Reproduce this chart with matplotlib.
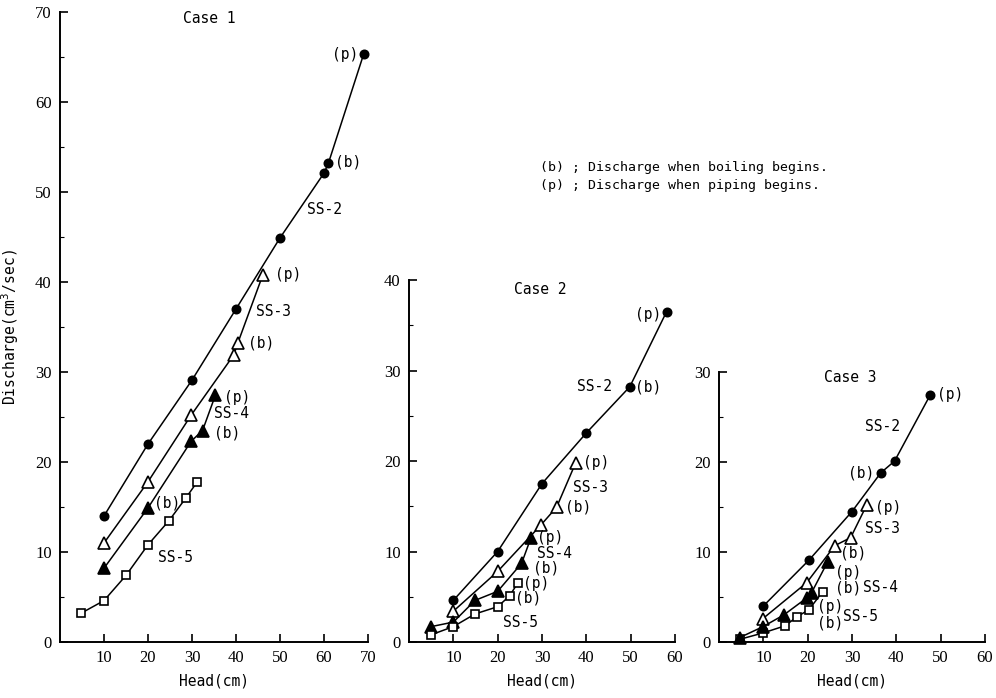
import matplotlib
matplotlib.use("Agg")
import matplotlib.pyplot as plt
from matplotlib.ticker import MultipleLocator

# Case 1 data (Head cm, Discharge cm3/sec)
c1_ss2_x = [10, 20, 30, 40, 50, 60, 61, 69]
c1_ss2_y = [14.0, 22.0, 29.1, 37.0, 44.9, 52.1, 53.2, 65.3]
c1_ss3_x = [10, 20, 29.8, 39.5, 40.4, 46.1]
c1_ss3_y = [11.0, 17.8, 25.2, 31.9, 33.2, 40.8]
c1_ss4_x = [10, 20, 29.8, 32.4, 35.3]
c1_ss4_y = [8.2, 14.9, 22.3, 23.5, 27.4]
c1_ss5_x = [4.8, 10, 15, 20, 24.8, 28.6, 31.2]
c1_ss5_y = [3.2, 4.6, 7.4, 10.8, 13.5, 16.0, 17.8]

# Case 2
c2_ss2_x = [10, 20, 30, 40, 49.8, 58.1]
c2_ss2_y = [4.6, 10.0, 17.5, 23.1, 28.2, 36.5]
c2_ss3_x = [10, 20, 29.7, 33.3, 37.6]
c2_ss3_y = [3.4, 7.8, 12.9, 14.9, 19.8]
c2_ss4_x = [5, 10, 14.9, 20, 25.4, 27.5]
c2_ss4_y = [1.7, 2.2, 4.6, 5.6, 8.7, 11.5]
c2_ss5_x = [5, 10, 14.9, 20, 22.7, 24.5]
c2_ss5_y = [0.8, 1.7, 3.1, 3.9, 5.1, 6.5]

# Case 3
c3_ss2_x = [10, 20.3, 30, 36.5, 39.6, 47.7]
c3_ss2_y = [4.0, 9.1, 14.5, 18.8, 20.1, 27.5]
c3_ss3_x = [9.9, 19.8, 26.1, 29.7, 33.3]
c3_ss3_y = [2.6, 6.6, 10.7, 11.6, 15.2]
c3_ss4_x = [4.7, 9.9, 14.6, 19.8, 20.9, 24.5]
c3_ss4_y = [0.5, 1.7, 3.0, 4.9, 5.5, 8.9]
c3_ss5_x = [4.7, 9.9, 14.9, 17.6, 20.3, 23.4]
c3_ss5_y = [0.3, 1.0, 1.8, 2.8, 3.6, 5.6]

mono = "DejaVu Sans Mono"
tickfont = "Liberation Serif"

fig = plt.figure(figsize=(9.96, 6.98), dpi=100)
W, H = 996.0, 698.0

# all panels share the same scale: 4.4 px per cm head, 9.0 px per unit discharge
ax1 = fig.add_axes([60 / W, 56 / H, 308 / W, 630 / H])
ax2 = fig.add_axes([409 / W, 56 / H, 266 / W, 362 / H])
ax3 = fig.add_axes([719 / W, 56 / H, 266 / W, 270 / H])


def style(ax, xmax, ymax):
    ax.set_xlim(0, xmax)
    ax.set_ylim(0, ymax)
    ax.spines["top"].set_visible(False)
    ax.spines["right"].set_visible(False)
    ax.spines["left"].set_linewidth(1.4)
    ax.spines["bottom"].set_linewidth(1.4)
    ax.set_xticks(range(10, xmax + 1, 10))
    ax.set_yticks(range(0, ymax + 1, 10))
    ax.yaxis.set_minor_locator(MultipleLocator(5))
    ax.tick_params(direction="in", length=6, width=1.2, labelsize=12, pad=6)
    ax.tick_params(which="minor", direction="in", length=3, width=0.8)
    for lab in ax.get_xticklabels() + ax.get_yticklabels():
        lab.set_fontfamily(tickfont)
    ax.set_xlabel("Head(cm)", fontfamily=mono, fontsize=10.5, labelpad=5)


def series(ax, x, y, marker, filled, ms):
    ax.plot(x, y, color="black", lw=1.1, marker=marker, ms=ms,
            mfc="black" if filled else "white", mec="black", mew=1.2,
            clip_on=False, zorder=3)


def label(ax, x, y, s, ha="left"):
    ax.text(x, y, s, fontfamily=mono, fontsize=10.5, ha=ha, va="center")


# Case 1
style(ax1, 70, 70)
series(ax1, c1_ss2_x, c1_ss2_y, "o", True, 6)
series(ax1, c1_ss3_x, c1_ss3_y, "^", False, 8.5)
series(ax1, c1_ss4_x, c1_ss4_y, "^", True, 8.5)
series(ax1, c1_ss5_x, c1_ss5_y, "s", False, 6)
ax1.text(34, 69.3, "Case 1", fontfamily=mono, fontsize=10.5, ha="center", va="center")
label(ax1, 67.8, 65.3, "(p)", ha="right")
label(ax1, 62.5, 53.3, "(b)")
label(ax1, 56.1, 48.0, "SS-2")
label(ax1, 48.9, 40.8, "(p)")
label(ax1, 44.5, 36.7, "SS-3")
label(ax1, 42.7, 33.2, "(b)")
label(ax1, 37.3, 27.2, "(p)")
label(ax1, 35.0, 25.4, "SS-4")
label(ax1, 35.0, 23.2, "(b)")
label(ax1, 21.4, 15.5, "(b)")
label(ax1, 22.3, 9.4, "SS-5")
ax1.set_ylabel("Discharge(cm$^{3}$/sec)", fontfamily=mono, fontsize=10.5, labelpad=10)

# Case 2
style(ax2, 60, 40)
series(ax2, c2_ss2_x, c2_ss2_y, "o", True, 6)
series(ax2, c2_ss3_x, c2_ss3_y, "^", False, 8.5)
series(ax2, c2_ss4_x, c2_ss4_y, "^", True, 8.5)
series(ax2, c2_ss5_x, c2_ss5_y, "s", False, 6)
ax2.text(29.5, 38.9, "Case 2", fontfamily=mono, fontsize=10.5, ha="center", va="center")
label(ax2, 57.0, 36.2, "(p)", ha="right")
label(ax2, 38.0, 28.2, "SS-2")
label(ax2, 50.9, 28.2, "(b)")
label(ax2, 39.2, 19.8, "(p)")
label(ax2, 37.0, 17.1, "SS-3")
label(ax2, 35.1, 14.9, "(b)")
label(ax2, 28.8, 11.6, "(p)")
label(ax2, 28.8, 9.8, "SS-4")
label(ax2, 27.9, 8.2, "(b)")
label(ax2, 25.7, 6.5, "(p)")
label(ax2, 23.9, 4.9, "(b)")
label(ax2, 21.2, 2.1, "SS-5")

# Case 3
style(ax3, 60, 30)
series(ax3, c3_ss2_x, c3_ss2_y, "o", True, 6)
series(ax3, c3_ss3_x, c3_ss3_y, "^", False, 8.5)
series(ax3, c3_ss5_x, c3_ss5_y, "s", False, 6)
series(ax3, c3_ss4_x, c3_ss4_y, "^", True, 8.5)
ax3.text(29.7, 29.4, "Case 3", fontfamily=mono, fontsize=10.5, ha="center", va="center")
label(ax3, 49.1, 27.5, "(p)")
label(ax3, 32.9, 23.9, "SS-2")
label(ax3, 29.0, 18.8, "(b)")
label(ax3, 35.1, 14.9, "(p)")
label(ax3, 32.9, 12.6, "SS-3")
label(ax3, 27.3, 9.9, "(b)")
label(ax3, 26.1, 7.7, "(p)")
label(ax3, 26.1, 6.0, "(b)")
label(ax3, 32.4, 6.0, "SS-4")
label(ax3, 22.1, 3.9, "(p)")
label(ax3, 22.1, 2.1, "(b)")
label(ax3, 27.9, 2.8, "SS-5")

# explanation of marks
fig.text(540 / W, 1 - 168 / H, "(b) ; Discharge when boiling begins.",
         fontfamily=mono, fontsize=9.5, va="center")
fig.text(540 / W, 1 - 186 / H, "(p) ; Discharge when piping begins.",
         fontfamily=mono, fontsize=9.5, va="center")

fig.savefig("out.png", dpi=100)
